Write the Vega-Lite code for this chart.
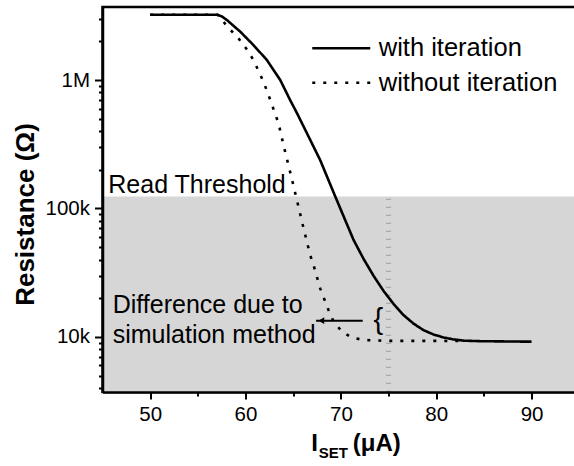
{
  "$schema": "https://vega.github.io/schema/vega-lite/v6.json",
  "width": 474,
  "height": 385,
  "autosize": {"type": "none"},
  "padding": {"left": 102.5, "top": 7, "right": 0, "bottom": 74},
  "background": "white",
  "config": {
    "view": {"stroke": "black", "strokeWidth": 2.5},
    "font": "Liberation Sans"
  },
  "datasets": {
    "curves": [
      {"x": 50, "y": 3220000, "series": "with iteration"},
      {"x": 57.0, "y": 3220000, "series": "with iteration"},
      {"x": 57.54, "y": 3120000, "series": "with iteration"},
      {"x": 58.04, "y": 2930000, "series": "with iteration"},
      {"x": 59.44, "y": 2380000, "series": "with iteration"},
      {"x": 60.83, "y": 1870000, "series": "with iteration"},
      {"x": 62.24, "y": 1430000, "series": "with iteration"},
      {"x": 63.64, "y": 1000000, "series": "with iteration"},
      {"x": 64.68, "y": 698000, "series": "with iteration"},
      {"x": 65.39, "y": 553000, "series": "with iteration"},
      {"x": 66.44, "y": 385000, "series": "with iteration"},
      {"x": 67.83, "y": 238000, "series": "with iteration"},
      {"x": 69.41, "y": 124000, "series": "with iteration"},
      {"x": 71.33, "y": 56900, "series": "with iteration"},
      {"x": 72.38, "y": 40500, "series": "with iteration"},
      {"x": 73.43, "y": 29900, "series": "with iteration"},
      {"x": 74.48, "y": 22800, "series": "with iteration"},
      {"x": 75.52, "y": 18100, "series": "with iteration"},
      {"x": 76.57, "y": 14800, "series": "with iteration"},
      {"x": 77.62, "y": 12700, "series": "with iteration"},
      {"x": 78.67, "y": 11300, "series": "with iteration"},
      {"x": 79.72, "y": 10450, "series": "with iteration"},
      {"x": 80.77, "y": 9910, "series": "with iteration"},
      {"x": 81.82, "y": 9570, "series": "with iteration"},
      {"x": 82.87, "y": 9360, "series": "with iteration"},
      {"x": 84.62, "y": 9270, "series": "with iteration"},
      {"x": 90.0, "y": 9190, "series": "with iteration"},
      {"x": 50, "y": 3220000, "series": "without iteration"},
      {"x": 57.1, "y": 3220000, "series": "without iteration"},
      {"x": 58.11, "y": 2600000, "series": "without iteration"},
      {"x": 59.26, "y": 2110000, "series": "without iteration"},
      {"x": 60.14, "y": 1730000, "series": "without iteration"},
      {"x": 60.83, "y": 1430000, "series": "without iteration"},
      {"x": 61.36, "y": 1180000, "series": "without iteration"},
      {"x": 61.88, "y": 970000, "series": "without iteration"},
      {"x": 62.41, "y": 764000, "series": "without iteration"},
      {"x": 62.93, "y": 594000, "series": "without iteration"},
      {"x": 63.46, "y": 460000, "series": "without iteration"},
      {"x": 63.98, "y": 312000, "series": "without iteration"},
      {"x": 64.69, "y": 191000, "series": "without iteration"},
      {"x": 65.39, "y": 116000, "series": "without iteration"},
      {"x": 66.08, "y": 70500, "series": "without iteration"},
      {"x": 66.78, "y": 43400, "series": "without iteration"},
      {"x": 67.13, "y": 36300, "series": "without iteration"},
      {"x": 67.83, "y": 23900, "series": "without iteration"},
      {"x": 68.70, "y": 16200, "series": "without iteration"},
      {"x": 69.23, "y": 13200, "series": "without iteration"},
      {"x": 70.11, "y": 11000, "series": "without iteration"},
      {"x": 71.16, "y": 9890, "series": "without iteration"},
      {"x": 72.38, "y": 9480, "series": "without iteration"},
      {"x": 75.0, "y": 9330, "series": "without iteration"},
      {"x": 82.8, "y": 9310, "series": "without iteration"}
    ],
    "region": [{"x": 45, "x2": 94.71, "y": 3730, "y2": 124000}],
    "vline": [{"x": 75, "y": 3730, "y2": 124000}],
    "notes": [
      {"x": 45.61, "y": 132700, "text": "Read Threshold"},
      {"x": 46.07, "y": 15450, "text": "Difference due to"},
      {"x": 46.07, "y": 9020, "text": "simulation method"}
    ],
    "brace": [{"x": 73.93, "y": 13550, "text": "{"}],
    "arrow": [{"x": 67.4, "x2": 72.29, "y": 13400}],
    "arrowhead": [{"x": 67.95, "y": 13400}],
    "xtitle": [
      {"x": 66.9, "y": 1302, "text": "I"},
      {"x": 71.25, "y": 1302, "text": "(μA)"}
    ],
    "xsub": [{"x": 67.67, "y": 1137, "text": "SET"}]
  },
  "encoding": {
    "x": {
      "field": "x",
      "type": "quantitative",
      "scale": {"domain": [45, 94.71], "nice": false, "zero": false},
      "axis": {
        "title": null,
        "values": [50, 55, 60, 65, 70, 75, 80, 85, 90],
        "labelExpr": "datum.value % 10 === 0 ? datum.label : ''",
        "tickSize": {"condition": {"test": "datum.value % 10 === 0", "value": 7}, "value": 4},
        "tickWidth": 2,
        "tickColor": "black",
        "domainColor": "black",
        "domainWidth": 2.5,
        "labelFont": "Liberation Sans",
        "labelFontSize": 20.5,
        "labelColor": "black",
        "labelPadding": 5,
        "grid": false,
        "zindex": 1
      }
    },
    "y": {
      "field": "y",
      "type": "quantitative",
      "scale": {"type": "log", "domain": [3730, 3700000], "nice": false},
      "axis": {
        "title": "Resistance (Ω)",
        "titleFont": "Liberation Sans",
        "titleFontSize": 26,
        "titleFontWeight": "bold",
        "titleColor": "black",
        "titleX": -69,
        "titleY": 207,
        "titleBaseline": "alphabetic",
        "values": [4000, 5000, 6000, 7000, 8000, 9000, 10000, 20000, 30000, 40000, 50000, 60000, 70000, 80000, 90000, 100000, 200000, 300000, 400000, 500000, 600000, 700000, 800000, 900000, 1000000, 2000000, 3000000],
        "labelExpr": "datum.value === 10000 ? '10k' : datum.value === 100000 ? '100k' : datum.value === 1000000 ? '1M' : ''",
        "tickSize": {"condition": {"test": "datum.value === 10000 || datum.value === 100000 || datum.value === 1000000", "value": 8}, "value": 4},
        "tickWidth": 2,
        "tickColor": "black",
        "domainColor": "black",
        "domainWidth": 2.5,
        "labelFont": "Liberation Sans",
        "labelFontSize": 20.5,
        "labelColor": "black",
        "labelPadding": 5,
        "grid": false,
        "zindex": 1
      }
    }
  },
  "layer": [
    {
      "data": {"name": "region"},
      "mark": {"type": "rect", "fill": "#d6d6d6"},
      "encoding": {"x2": {"field": "x2"}, "y2": {"field": "y2"}}
    },
    {
      "data": {"name": "vline"},
      "mark": {"type": "rule", "color": "#aaaaaa", "strokeWidth": 5, "strokeDash": [1.3, 6.7]},
      "encoding": {"y2": {"field": "y2"}}
    },
    {
      "data": {"name": "curves"},
      "mark": {"type": "line", "color": "black", "strokeWidth": 2.6, "strokeCap": "butt"},
      "encoding": {
        "strokeDash": {
          "field": "series",
          "type": "nominal",
          "scale": {"domain": ["with iteration", "without iteration"], "range": [[1, 0], [3, 8]]},
          "legend": {
            "title": null,
            "orient": "none",
            "legendX": 208.25,
            "legendY": 28.8,
            "padding": 0,
            "symbolType": "stroke",
            "symbolSize": 3364,
            "symbolStrokeWidth": 2.6,
            "symbolStrokeColor": "black",
            "clipHeight": 25,
            "rowPadding": 8.4,
            "labelOffset": 7,
            "labelLimit": 400,
            "labelFont": "Liberation Sans",
            "labelFontSize": 25.5,
            "labelColor": "black"
          }
        }
      }
    },
    {
      "data": {"name": "notes"},
      "mark": {"type": "text", "align": "left", "baseline": "alphabetic", "fontSize": 25, "color": "black", "font": "Liberation Sans"},
      "encoding": {"text": {"field": "text"}}
    },
    {
      "data": {"name": "brace"},
      "mark": {"type": "text", "align": "center", "baseline": "middle", "fontSize": 29, "color": "black", "font": "Liberation Sans"},
      "encoding": {"text": {"field": "text"}}
    },
    {
      "data": {"name": "arrow"},
      "mark": {"type": "rule", "color": "black", "strokeWidth": 2},
      "encoding": {"x2": {"field": "x2"}}
    },
    {
      "data": {"name": "arrowhead"},
      "mark": {"type": "point", "shape": "triangle-left", "size": 45, "filled": true, "color": "black", "opacity": 1},
      "encoding": {}
    },
    {
      "data": {"name": "xtitle"},
      "mark": {"type": "text", "align": "left", "baseline": "alphabetic", "fontSize": 24, "fontWeight": "bold", "color": "black", "font": "Liberation Sans"},
      "encoding": {"text": {"field": "text"}}
    },
    {
      "data": {"name": "xsub"},
      "mark": {"type": "text", "align": "left", "baseline": "alphabetic", "fontSize": 15, "fontWeight": "bold", "color": "black", "font": "Liberation Sans"},
      "encoding": {"text": {"field": "text"}}
    }
  ]
}
